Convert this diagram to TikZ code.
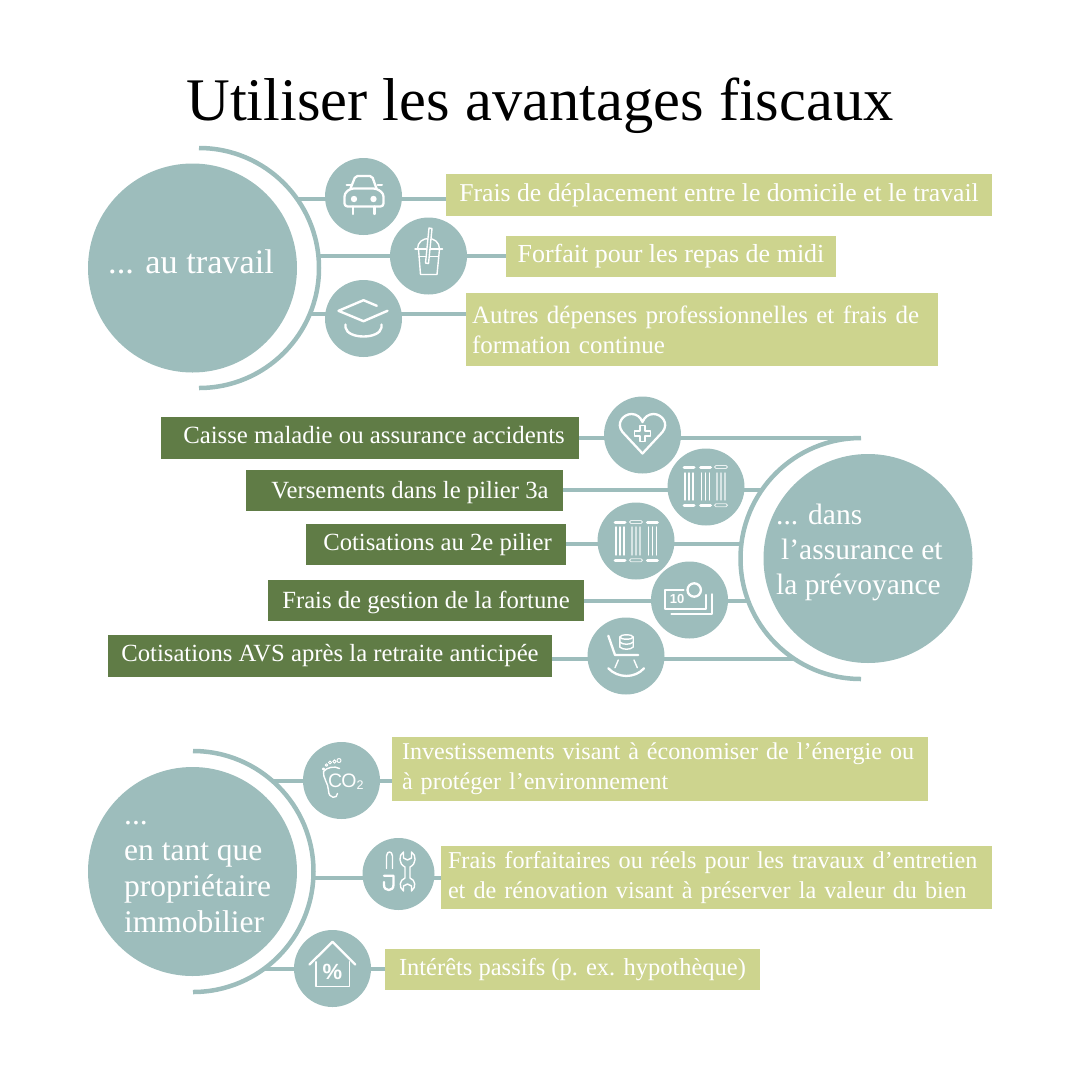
\documentclass[tikz,border=0pt]{standalone}
\usepackage{fontspec}
\setmainfont{Liberation Serif}
\newfontfamily\icofont{Liberation Sans}
\usetikzlibrary{backgrounds}
\definecolor{tealc}{HTML}{9DBDBC}
\definecolor{lightc}{HTML}{CDD48E}
\definecolor{darkc}{HTML}{607C46}
\tikzset{
  lightbox/.style={fill=lightc,text=white,inner sep=0pt},
  darkbox/.style={fill=darkc,text=white,inner sep=0pt},
  fsz/.style={font=\fontsize{#1}{30}\selectfont},
  lineset/.style={text height=#1,text depth=0pt},
  bigdisc/.style={circle,fill=tealc,minimum size=209pt,inner sep=0pt},
  smalldisc/.style={circle,fill=tealc,minimum size=77pt,inner sep=0pt},
  bigtext/.style={text=white,inner sep=0pt,align=left,anchor=west},
  link/.style={draw=tealc,line width=4pt},
  ringarc/.style={draw=tealc,line width=4.5pt},
  ico/.style={draw=white,line width=2.3pt,line join=round,line cap=round},
  thinico/.style={draw=white,line width=1.4pt,line join=round,line cap=round},
  pillarbar/.style={draw=white,line width=3pt,line cap=round},
  pillarghost/.style={draw=white,line width=0.8pt,rounded corners=1.5pt,opacity=0.8},
}
\begin{document}
\begin{tikzpicture}[x=1pt,y=-1pt]
\useasboundingbox (0,0) rectangle (1080,1080);
\node[inner sep=0pt,font=\fontsize{60.5}{62}\selectfont] (title) at (540,106) {Utiliser les avantages fiscaux};

% au travail
\node[bigdisc] (work) at (192.5,268) {};
\node[bigtext,font=\fontsize{34.3}{36}\selectfont] (worklab) at (108,262) {... au travail};
\draw[ringarc] (199,148) arc (-90:90:120);
\node[smalldisc] (car) at (363.5,196.5) {};
\node[smalldisc] (cup) at (428.5,256) {};
\node[smalldisc] (cap) at (363.5,318.5) {};
\node[lightbox,fsz=25.7,lineset=13.4pt,minimum width=546pt,minimum height=42pt] (boxA) at (719,195) {Frais de déplacement entre le domicile et le travail};
\node[lightbox,fsz=26,lineset=12.4pt,minimum width=330pt,minimum height=41pt] (boxB) at (671,256.5) {Forfait pour les repas de midi};
\node[lightbox,fsz=25,inner xsep=6pt,text width=460pt,minimum height=73pt,align=left] (boxC) at (702,329.5) {Autres dépenses professionnelles et frais de\\formation continue};
\coordinate (lkA) at (297,199);
\coordinate (lkB) at (319,256);
\coordinate (lkC) at (310,314);

% assurance et prevoyance
\node[bigdisc] (care) at (868,558.5) {};
\node[bigtext,font=\fontsize{29.5}{35}\selectfont] (carelab) at (776,552) {... dans\\\hspace*{5pt}l’assurance et\\la prévoyance};
\draw[ringarc] (861,438) arc (-90:-270:120.5);
\node[smalldisc] (heart) at (642.5,435) {};
\node[smalldisc] (pilA) at (706,487) {};
\node[smalldisc] (pilB) at (636,541) {};
\node[smalldisc] (money) at (689.5,600) {};
\node[smalldisc] (chair) at (626,656) {};
\node[darkbox,fsz=24.8,lineset=10.6pt,minimum width=418pt,minimum height=42pt] (boxD) at (370,438) {\hspace*{8pt}Caisse maladie ou assurance accidents};
\node[darkbox,fsz=24.7,lineset=15.6pt,minimum width=317pt,minimum height=41pt] (boxE) at (404.5,490.5) {\hspace*{11pt}Versements dans le pilier 3a};
\node[darkbox,fsz=24.7,lineset=11pt,minimum width=260pt,minimum height=41pt] (boxF) at (436,544.5) {\hspace*{3pt}Cotisations au 2e pilier};
\node[darkbox,fsz=24.7,lineset=15.6pt,minimum width=316pt,minimum height=41pt] (boxG) at (426,600.5) {Frais de gestion de la fortune};
\node[darkbox,fsz=24.7,lineset=11.4pt,minimum width=444pt,minimum height=42pt] (boxH) at (330,656) {Cotisations AVS après la retraite anticipée};
\coordinate (lkD) at (861,438);
\coordinate (lkE) at (762,490);
\coordinate (lkF) at (742,544);
\coordinate (lkG) at (749,600.5);
\coordinate (lkH) at (795,658.5);

% proprietaire immobilier
\node[bigdisc] (home) at (192.5,871.5) {};
\node[bigtext,font=\fontsize{31.5}{36}\selectfont] (homelab) at (124,877) {...\\en tant que\\propriétaire\\immobilier};
\draw[ringarc] (193,751) arc (-90:90:120.5);
\node[smalldisc] (foot) at (341.5,780.5) {};
\node[smalldisc,minimum size=72pt] (tools) at (398.5,874) {};
\node[smalldisc] (house) at (332.5,968.5) {};
\node[lightbox,fsz=24.1,inner xsep=10pt,text width=516pt,minimum height=64pt,align=left] (boxI) at (660,769) {Investissements visant à économiser de l’énergie ou\\à protéger l’environnement};
\node[lightbox,fsz=24.2,inner xsep=7pt,text width=537pt,minimum height=63pt,align=left] (boxJ) at (716.5,877.5) {Frais forfaitaires ou réels pour les travaux d’entretien\\et de rénovation visant à préserver la valeur du bien};
\node[lightbox,fsz=24.5,lineset=11pt,minimum width=375pt,minimum height=41pt] (boxK) at (572.5,969.5) {Intérêts passifs (p. ex. hypothèque)};
\coordinate (lkI) at (270.5,780.7);
\coordinate (lkJ) at (312,878);
\coordinate (lkK) at (263,969);

\begin{pgfonlayer}{background}
\draw[link] (lkA) -- (lkA -| car.center) -- (lkA -| boxA.west);
\draw[link] (lkB) -- (lkB -| cup.center) -- (lkB -| boxB.west);
\draw[link] (lkC) -- (lkC -| cap.center) -- (lkC -| boxC.west);
\draw[link] (lkD) -- (lkD -| heart.center) -- (lkD -| boxD.east);
\draw[link] (lkE) -- (lkE -| pilA.center) -- (lkE -| boxE.east);
\draw[link] (lkF) -- (lkF -| pilB.center) -- (lkF -| boxF.east);
\draw[link] (lkG) -- (lkG -| money.center) -- (lkG -| boxG.east);
\draw[link] (lkH) -- (lkH -| chair.center) -- (lkH -| boxH.east);
\draw[link] (lkI) -- (lkI -| foot.center) -- (lkI -| boxI.west);
\draw[link] (lkJ) -- (lkJ -| tools.center) -- (lkJ -| boxJ.west);
\draw[link] (lkK) -- (lkK -| house.center) -- (lkK -| boxK.west);
\end{pgfonlayer}

% icons
\begin{scope}[shift={(car)}]
  \draw[ico,rounded corners=3pt] (-19,10) -- (-19,-3) -- (-13,-8) -- (13,-8) -- (20,-3) -- (20,10) -- cycle;
  \draw[ico,rounded corners=2pt] (-13,-8) -- (-8,-20.5) -- (8.5,-20.5) -- (13,-8);
  \draw[ico,line width=2pt] (-17,-12) -- (-13,-12) (14,-12) -- (18.5,-12);
  \draw[ico] (-10.5,10) -- (-10.5,17.5) (11,10) -- (11,17.5);
  \fill[white] (-9.5,2.5) circle[radius=3.2pt] (10,2.5) circle[radius=3.2pt];
\end{scope}
\begin{scope}[shift={(cup)}]
  \draw[thinico] (-13.5,-7) -- (14,-7);
  \draw[thinico] (-11,-7) .. controls (-11,-21) and (11,-21) .. (11,-7);
  \draw[thinico] (-10,-7) -- (-8,18.5) -- (8.5,18.5) -- (11,-7);
  \draw[thinico] (-9.5,0.5) -- (10,0.5);
  \draw[thinico,fill=tealc] (0.5,-28) -- (3.5,-27.5) -- (0,7.5) -- (-3,7) -- cycle;
\end{scope}
\begin{scope}[shift={(cap)}]
  \draw[ico,line width=2.4pt] (13.3,-12.7) -- (0,-18.3) -- (-25,-7.7) -- (0,2.7) -- (24,-7.7);
  \draw[ico,line width=2.4pt] (-18,6) -- (-18,9) .. controls (-16,21) and (16,21) .. (18,9) -- (18,6);
\end{scope}
\begin{scope}[shift={(heart)}]
  \draw[ico] (0,18.5) -- (-20,-3) .. controls (-27,-12) and (-19,-21) .. (-11,-21) .. controls (-6,-21) and (-2,-18) .. (0,-13) .. controls (2,-18) and (6,-21) .. (11,-21) .. controls (19,-21) and (27,-12) .. (20,-3) -- cycle;
  \draw[thinico,line width=1.5pt] (-2.7,-9.5) -- (2.7,-9.5) -- (2.7,-4.2) -- (8,-4.2) -- (8,1.2) -- (2.7,1.2) -- (2.7,6.5) -- (-2.7,6.5) -- (-2.7,1.2) -- (-8,1.2) -- (-8,-4.2) -- (-2.7,-4.2) -- cycle;
\end{scope}
\begin{scope}[shift={(pilA)}]
  \foreach \dx in {-17,-0.5} {
    \draw[pillarbar] (\dx-5,-20) -- (\dx+5,-20);
    \draw[pillarbar] (\dx-5,18.3) -- (\dx+5,18.3);
    \foreach \ox in {-4,0,4}
      \draw[thinico] (\dx+\ox,-14) -- (\dx+\ox,13);
  }
  \draw[pillarghost] (8.5,-21.5) rectangle (21.5,-18.5) (8.5,16.8) rectangle (21.5,19.8);
  \foreach \ox in {-4,0,4}
    \draw[thinico,opacity=0.6] (15+\ox,-14) -- (15+\ox,13);
\end{scope}
\begin{scope}[shift={(pilB)}]
  \foreach \dx in {-16,16.3} {
    \draw[pillarbar] (\dx-5,-19) -- (\dx+5,-19);
    \draw[pillarbar] (\dx-5,19.3) -- (\dx+5,19.3);
    \foreach \ox in {-4,0,4}
      \draw[thinico] (\dx+\ox,-14) -- (\dx+\ox,14);
  }
  \draw[pillarghost] (-6.5,-20.5) rectangle (6.5,-17.5) (-6.5,17.8) rectangle (6.5,20.8);
  \foreach \ox in {-4,0,4}
    \draw[thinico,opacity=0.6] (\ox,-14) -- (\ox,14);
\end{scope}
\begin{scope}[shift={(money)}]
  \draw[ico] (-6,-10) -- (-24.3,-10) -- (-24.3,9.3) -- (16.3,9.3) -- (16.3,-5);
  \draw[ico] (4.7,-10) circle[radius=6.7pt];
  \draw[thinico,line width=1.5pt] (-18.3,14) -- (22.3,14) -- (22.3,-6);
  \node[text=white,inner sep=0pt,font=\icofont\bfseries\fontsize{13}{13}\selectfont] (tenlab) at (-12.5,-0.5) {10};
\end{scope}
\begin{scope}[shift={(chair)}]
  \draw[ico] (-17.7,-20.3) -- (-11,-1) -- (12.3,-1);
  \draw[thinico] (-7.7,4) -- (-11,11.7) (8,4) -- (11.3,11.7);
  \draw[ico] (-17.7,12.3) .. controls (-8,22.5) and (9,22.5) .. (18,12.3);
  \draw[thinico] (0.5,-19) ellipse (6.7pt and 2.2pt);
  \draw[thinico] (-6.2,-19) -- (-6.2,-9) .. controls (-3.5,-6) and (4.5,-6) .. (7.2,-9) -- (7.2,-19);
  \draw[thinico] (-6.2,-14) .. controls (-3.5,-11) and (4.5,-11) .. (7.2,-14);
\end{scope}
\begin{scope}[shift={(foot)}]
  \draw[thinico] (-2,-12) .. controls (-7,-15) and (-15,-13) .. (-18,-9) .. controls (-19,-3) and (-13,3) .. (-13,10) .. controls (-13,18.5) and (-4,18.5) .. (-4,13);
  \foreach \tx/\ty/\tr in {-18/-11.5/1.1,-15/-15.5/1.3,-11.5/-18/1.5,-7/-19/1.7,-2.5/-20/2}
    \draw[thinico,line width=1pt] (\tx,\ty) circle[radius=\tr pt];
  \node[text=white,inner sep=0pt,anchor=west,font=\icofont\fontsize{19.5}{20}\selectfont] (cotwo) at (-13.5,1) {C\kern-0.8pt O\raisebox{-2.5pt}{\fontsize{12.5}{13}\selectfont 2}};
\end{scope}
\begin{scope}[shift={(tools)}]
  \draw[thinico] (-12,-5.7) -- (-12,-18) .. controls (-12,-21) and (-10,-22) .. (-9,-22) .. controls (-8,-22) and (-6,-21) .. (-6,-18) -- (-6,-5.7);
  \draw[ico] (-14.5,1.7) -- (-5,1.7) -- (-5,11) .. controls (-5,17.7) and (-14.5,17.7) .. (-14.5,11) -- (-14.5,8);
  \draw[thinico] (5,-22) .. controls (0,-19) and (0,-10) .. (6.5,-7) -- (6.5,4) .. controls (1,6) and (0,13) .. (5,17) -- (5,12) -- (9,10) -- (13,12) -- (13,17) .. controls (18,13) and (17,6) .. (11.5,4) -- (11.5,-7) .. controls (18,-10) and (18,-19) .. (13,-22) -- (13,-16) -- (9,-14) -- (5,-16) -- cycle;
\end{scope}
\begin{scope}[shift={(house)}]
  \draw[ico] (-23,-4) -- (0,-26.7) -- (22.7,-4);
  \draw[thinico] (-16.7,-6.7) -- (-16.7,17.7) -- (17,17.7) -- (17,-6.7);
  \node[text=white,inner sep=0pt,font=\icofont\bfseries\fontsize{22}{22}\selectfont] (pct) at (0,3) {\%};
\end{scope}
\end{tikzpicture}
\end{document}
